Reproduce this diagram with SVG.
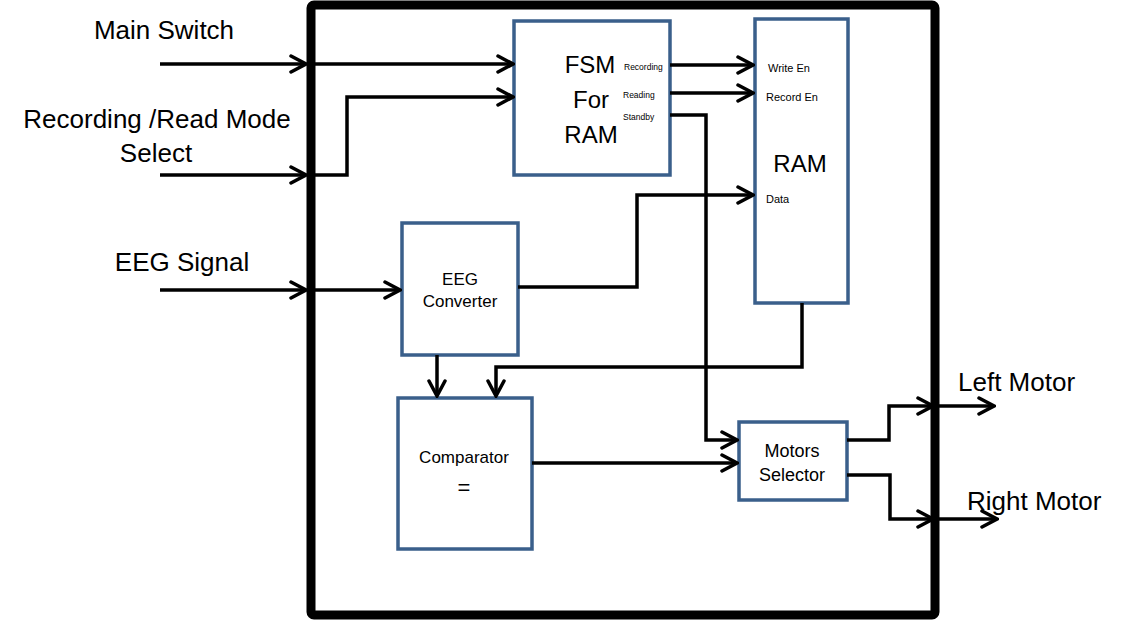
<svg xmlns="http://www.w3.org/2000/svg" width="1146" height="622" viewBox="0 0 1146 622">
<defs>
<marker id="arr" viewBox="0 0 20 20" refX="18" refY="10" markerWidth="20" markerHeight="20" markerUnits="userSpaceOnUse" orient="auto">
<path d="M3,2 L18,10 L3,18" fill="none" stroke="#000" stroke-width="3.5" stroke-linecap="round" stroke-linejoin="miter"/>
</marker>
</defs>
<style>
text{font-family:"Liberation Sans",Arial,sans-serif;fill:#000}
.big{font-size:26px}
.blk{fill:#fff;stroke:#3A5F8B;stroke-width:3.5}
.w{stroke:#000;stroke-width:3.5;fill:none;stroke-linejoin:miter}
.a{marker-end:url(#arr)}
.tiny{font-size:8.5px}
.sm{font-size:11px}
.md{font-size:17px}
</style>
<rect width="1146" height="622" fill="#fff"/>
<g id="system">
<rect x="311" y="5" width="624" height="610" rx="3" fill="none" stroke="#000" stroke-width="9"/>
</g>
<g id="labels">
<text class="big" x="164" y="39" text-anchor="middle">Main Switch</text>
<text class="big" x="157" y="128" text-anchor="middle">Recording /Read Mode</text>
<text class="big" x="156" y="162" text-anchor="middle">Select</text>
<text class="big" x="182" y="271" text-anchor="middle">EEG Signal</text>
<text class="big" x="958" y="391">Left Motor</text>
<text class="big" x="967" y="510">Right Motor</text>
</g>
<g id="fsm">
<rect class="blk" x="514" y="21" width="156" height="154"/>
<text x="590" y="73" font-size="24" text-anchor="middle">FSM</text>
<text x="591" y="108" font-size="24" text-anchor="middle">For</text>
<text x="591" y="143" font-size="24" text-anchor="middle">RAM</text>
<text class="tiny" x="624" y="70">Recording</text>
<text class="tiny" x="623" y="98">Reading</text>
<text class="tiny" x="623" y="120">Standby</text>
</g>
<g id="ram">
<rect class="blk" x="755" y="19" width="93" height="284"/>
<text class="sm" x="768" y="72">Write En</text>
<text class="sm" x="766" y="101">Record En</text>
<text x="800" y="172" font-size="24" text-anchor="middle">RAM</text>
<text class="sm" x="766" y="203">Data</text>
</g>
<g id="eeg">
<rect class="blk" x="402" y="223" width="116" height="132"/>
<text class="md" x="460" y="285" text-anchor="middle">EEG</text>
<text class="md" x="460" y="307" text-anchor="middle">Converter</text>
</g>
<g id="comparator">
<rect class="blk" x="398" y="398" width="134" height="151"/>
<text class="md" x="464" y="463" text-anchor="middle">Comparator</text>
<text x="464" y="495" font-size="22" text-anchor="middle">=</text>
</g>
<g id="motors">
<rect class="blk" x="739" y="422" width="108" height="78"/>
<text x="792" y="457" font-size="18" text-anchor="middle">Motors</text>
<text x="792" y="481" font-size="18" text-anchor="middle">Selector</text>
</g>
<g id="connectors">
<path class="w a" d="M160,64 H306"/>
<path class="w a" d="M160,175 H306"/>
<path class="w a" d="M160,290 H306"/>
<path class="w a" d="M312,64 H513"/>
<path class="w a" d="M312,175 H347 V97 H513"/>
<path class="w a" d="M312,290 H400"/>
<path class="w a" d="M670,65 H753"/>
<path class="w a" d="M670,93 H753"/>
<path class="w a" d="M670,115 H706 V440 H737"/>
<path class="w a" d="M518,287 H637 V195 H753"/>
<path class="w a" d="M437,355 V396"/>
<path class="w a" d="M802,303 V367 H496 V396"/>
<path class="w a" d="M532,463 H737"/>
<path class="w a" d="M847,440 H889 V406 H933"/>
<path class="w a" d="M847,475 H890 V519 H933"/>
<path class="w a" d="M935,406 H994"/>
<path class="w a" d="M935,519 H997"/>
</g>
</svg>
